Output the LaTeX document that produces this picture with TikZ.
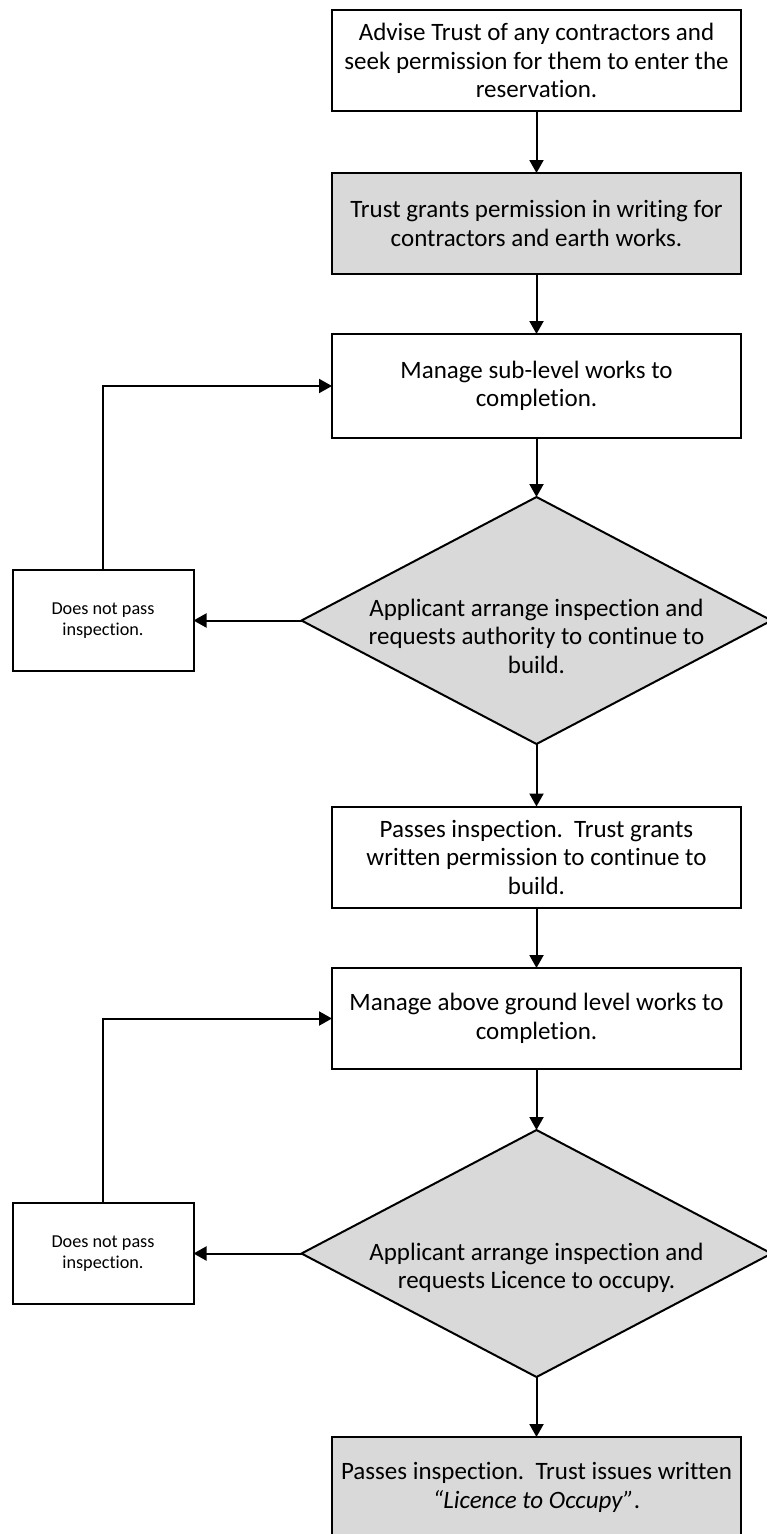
\documentclass[tikz,border=0pt]{standalone}
\usepackage{fontspec}
\setmainfont{Carlito}[Ligatures={NoCommon}]
\usetikzlibrary{arrows.meta,shapes.geometric}
\definecolor{boxgray}{HTML}{D9D9D9}
\frenchspacing
\begin{document}
\begin{tikzpicture}[x=1pt,y=-1pt,
  every node/.style={inner sep=0pt, outer sep=0pt},
  box/.style={draw=black, line width=2pt, rectangle, minimum width=409pt, minimum height=101pt, align=center, font=\fontsize{25}{28.5}\selectfont},
  graybox/.style={box, fill=boxgray},
  smallbox/.style={draw=black, line width=2pt, rectangle, minimum width=181pt, minimum height=101pt, align=center, font=\fontsize{18.2}{21.5}\selectfont},
  dia/.style={draw=black, line width=2pt, diamond, fill=boxgray, minimum width=470pt, minimum height=247pt},
  diatext/.style={align=center, font=\fontsize{25}{28.5}\selectfont},
  arr/.style={draw=black, line width=2pt, -{Triangle[length=13pt,width=14pt]}},
]
\useasboundingbox (0,0) rectangle (766,1534);
\fill[white] (0,0) rectangle (766,1534);

\node[box] (b1) at (536.5,60.5) {Advise Trust of any contractors and\\seek permission for them to enter the\\reservation.};
\node[graybox] (b2) at (536.5,223.5) {Trust grants permission in writing for\\contractors and earth works.};
\node[box, minimum height=104pt] (b3) at (536.5,386) {Manage sub-level works to\\completion.};
\node[dia] (d1) at (536.5,620.5) {};
\node[diatext] (t1) at (536.5,636) {Applicant arrange inspection and\\requests authority to continue to\\build.};
\node[smallbox] (n1) at (103,620.5) {Does not pass\\inspection.};
\node[box] (b4) at (536.5,857) {Passes inspection.\ \ Trust grants\\written permission to continue to\\build.};
\node[box] (b5) at (536.5,1018.5) {Manage above ground level works to\\completion.};
\node[dia] (d2) at (536.5,1253.5) {};
\node[diatext] (t2) at (536.5,1268) {Applicant arrange inspection and\\requests Licence to occupy.};
\node[smallbox] (n2) at (103,1253.5) {Does not pass\\inspection.};
\node[graybox] (b6) at (536.5,1487.5) {Passes inspection.\ \ Trust issues written\\\textit{“Licence to Occupy”}.};

\draw[arr] (b1.south) -- (b2.north);
\draw[arr] (b2.south) -- (b3.north);
\draw[arr] (b3.south) -- (d1.north);
\draw[arr] (d1.west) -- (n1.east);
\draw[arr] (n1.north) |- (b3.west);
\draw[arr] (d1.south) -- (b4.north);
\draw[arr] (b4.south) -- (b5.north);
\draw[arr] (b5.south) -- (d2.north);
\draw[arr] (d2.west) -- (n2.east);
\draw[arr] (n2.north) |- (b5.west);
\draw[arr] (d2.south) -- (b6.north);
\end{tikzpicture}
\end{document}
